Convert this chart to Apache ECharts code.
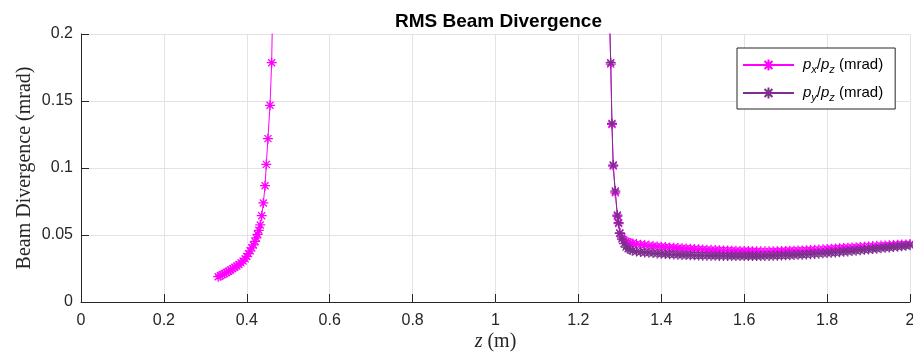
<!DOCTYPE html>
<html>
<head>
<meta charset="utf-8">
<script src="https://cdn.jsdelivr.net/npm/echarts@6/dist/echarts.min.js"></script>
<style>html,body{margin:0;padding:0;background:#fff;}#c{width:913px;height:354px;}</style>
</head>
<body>
<div id="c"></div>
<script>
// ---- data ----
const xTicks = [0, 0.2, 0.4, 0.6, 0.8, 1, 1.2, 1.4, 1.6, 1.8, 2];
const yTicks = [0, 0.05, 0.1, 0.15, 0.2];

// p_x/p_z : left branch, gap (off scale), right branch
const pxZ = [0.331,0.336,0.341,0.346,0.351,0.356,0.361,0.366,0.371,0.376,0.381,0.386,0.391,0.396,0.400,0.404,0.408,0.412,0.416,0.420,0.423,0.426,0.429,0.4325,0.436,0.440,0.444,0.447,0.451,0.456,0.460,0.464,
  0.9,
  1.272,1.278,1.281,1.284,1.289,1.294,1.297,1.300,1.305,1.310,1.315,1.320,1.325,1.330,
  1.34,1.35,1.36,1.37,1.38,1.39,1.40,1.41,1.42,1.43,1.44,1.45,1.46,1.47,1.48,1.49,1.50,1.51,1.52,1.53,1.54,1.55,1.56,1.57,1.58,1.59,1.60,1.61,1.62,1.63,1.64,1.65,1.66,1.67,1.68,1.69,1.70,1.71,1.72,1.73,1.74,1.75,1.76,1.77,1.78,1.79,1.80,1.81,1.82,1.83,1.84,1.85,1.86,1.87,1.88,1.89,1.90,1.91,1.92,1.93,1.94,1.95,1.96,1.97,1.98,1.99,2.00];
const pxV = [0.0189,0.0196,0.0204,0.0212,0.0220,0.0229,0.0239,0.0249,0.0259,0.0269,0.0280,0.0292,0.0306,0.0322,0.0340,0.0361,0.0382,0.0404,0.0426,0.0452,0.0478,0.0505,0.0535,0.0575,0.0644,0.0739,0.0868,0.1027,0.1219,0.1468,0.1786,0.25,
  null,
  0.25,0.1775,0.1325,0.1015,0.0815,0.0640,0.0585,0.0515,0.0485,0.0462,0.0452,0.0445,0.0440,0.0436,
  0.0432,0.0428,0.0425,0.0421,0.0418,0.0415,0.0412,0.0410,0.0407,0.0405,0.0403,0.0401,0.0399,0.0397,0.0395,0.0393,0.0392,0.0390,0.0389,0.0388,0.0386,0.0385,0.0384,0.0383,0.0382,0.0381,0.0380,0.0380,0.0379,0.0379,0.0378,0.0378,0.0378,0.0379,0.0379,0.0380,0.0381,0.0382,0.0383,0.0384,0.0385,0.0386,0.0388,0.0389,0.0391,0.0393,0.0395,0.0397,0.0399,0.0401,0.0403,0.0405,0.0407,0.0409,0.0411,0.0413,0.0415,0.0417,0.0419,0.0421,0.0422,0.0424,0.0426,0.0427,0.0429,0.0430,0.0432];

// p_y/p_z : right branch only
const pyZ = [1.272,1.278,1.281,1.284,1.289,1.294,1.297,1.300,1.305,1.310,1.315,1.320,1.325,1.330,
  1.34,1.35,1.36,1.37,1.38,1.39,1.40,1.41,1.42,1.43,1.44,1.45,1.46,1.47,1.48,1.49,1.50,1.51,1.52,1.53,1.54,1.55,1.56,1.57,1.58,1.59,1.60,1.61,1.62,1.63,1.64,1.65,1.66,1.67,1.68,1.69,1.70,1.71,1.72,1.73,1.74,1.75,1.76,1.77,1.78,1.79,1.80,1.81,1.82,1.83,1.84,1.85,1.86,1.87,1.88,1.89,1.90,1.91,1.92,1.93,1.94,1.95,1.96,1.97,1.98,1.99,2.00];
const pyV = [0.25,0.1786,0.1333,0.1022,0.0828,0.0649,0.0592,0.0513,0.0470,0.0435,0.0410,0.0398,0.0390,0.0383,
  0.0376,0.0373,0.0370,0.0367,0.0365,0.0362,0.0360,0.0358,0.0356,0.0354,0.0352,0.0351,0.0350,0.0349,0.0348,0.0347,0.0346,0.0346,0.0345,0.0345,0.0344,0.0344,0.0344,0.0343,0.0343,0.0343,0.0343,0.0343,0.0343,0.0343,0.0343,0.0344,0.0344,0.0345,0.0346,0.0347,0.0348,0.0349,0.0350,0.0352,0.0353,0.0355,0.0357,0.0359,0.0361,0.0363,0.0365,0.0367,0.0370,0.0372,0.0375,0.0377,0.0380,0.0383,0.0386,0.0389,0.0392,0.0395,0.0398,0.0401,0.0404,0.0407,0.0410,0.0413,0.0416,0.0419,0.0424];

const C_PX = '#FF00FF';
const C_PY = '#7E2F8E';
const STAR = 'path://M5,0L5,10M0,5L10,5M1.5,1.5L8.5,8.5M1.5,8.5L8.5,1.5';

function pairs(zs, vs){ return zs.map((z,i)=>[z, vs[i]===null ? '-' : vs[i]]); }

const chart = echarts.init(document.getElementById('c'), null, {renderer:'canvas'});
const sans = 'Liberation Sans, Arial, sans-serif';
const serif = 'Liberation Serif, Times New Roman, serif';

function legendRich(){
  return {
    i:{fontStyle:'italic', fontSize:15, fontFamily:sans, color:'#000', lineHeight:21},
    s:{fontStyle:'italic', fontSize:11, fontFamily:sans, color:'#000', lineHeight:11, padding:[9,0,0,0]},
    n:{fontSize:15, fontFamily:sans, color:'#000', lineHeight:21}
  };
}

chart.setOption({
  animation:false,
  backgroundColor:'#fff',
  title:{
    text:'RMS Beam Divergence', left:390, top:7,
    textStyle:{fontFamily:sans, fontSize:19, fontWeight:'bold', color:'#000'}
  },
  legend:{
    orient:'vertical', left:737, top:48,
    padding:[7,12,6,5], itemGap:8, itemWidth:51, itemHeight:14,
    backgroundColor:'#fff', borderColor:'#262626', borderWidth:1, borderRadius:0,
    data:['px','py'],
    formatter:function(name){
      const c = name==='px' ? 'x' : 'y';
      return '{i|p}{s|'+c+'}{n|/}{i|p}{s|z}{n| (mrad)}';
    },
    textStyle:{rich:legendRich(), padding:[0,0,0,4]}
  },
  grid:{left:81, right:3, top:34, bottom:52, containLabel:false, outerBoundsMode:'none'},
  xAxis:{
    type:'value', min:0, max:2, interval:0.2,
    name:'{i|z} (m)', nameLocation:'middle', nameGap:30, nameMoveOverlap:false,
    nameTextStyle:{fontFamily:serif, fontSize:20, color:'#262626',
      rich:{i:{fontFamily:serif, fontStyle:'italic', fontSize:20, color:'#262626'}}},
    axisLine:{show:true, onZero:false, lineStyle:{color:'#262626', width:1}},
    axisTick:{show:true, inside:true, length:8, lineStyle:{color:'#262626'}},
    axisLabel:{fontFamily:sans, fontSize:16, color:'#262626', margin:11,
      formatter:function(v){ return String(Math.round(v*10)/10); }},
    splitLine:{show:true, lineStyle:{color:'#e3e3e3', width:1}}
  },
  yAxis:{
    type:'value', min:0, max:0.2, interval:0.05,
    name:'Beam Divergence (mrad)', nameLocation:'middle', nameGap:46, nameMoveOverlap:false,
    nameTextStyle:{fontFamily:serif, fontSize:20, color:'#262626'},
    axisLine:{show:true, onZero:false, lineStyle:{color:'#262626', width:1}},
    axisTick:{show:true, inside:true, length:8, lineStyle:{color:'#262626'}},
    axisLabel:{fontFamily:sans, fontSize:16, color:'#262626', margin:8,
      formatter:function(v){ return String(Math.round(v*100)/100); }},
    splitLine:{show:true, lineStyle:{color:'#e3e3e3', width:1}}
  },
  series:[
    {
      name:'px', type:'line', data:pairs(pxZ, pxV), clip:true, connectNulls:false,
      symbol:STAR, symbolSize:10, showSymbol:true, showAllSymbol:true,
      lineStyle:{color:C_PX, width:1},
      itemStyle:{color:C_PX, borderColor:C_PX, borderWidth:1.3}
    },
    {
      name:'py', type:'line', data:pairs(pyZ, pyV), clip:true,
      symbol:STAR, symbolSize:10, showSymbol:true, showAllSymbol:true,
      lineStyle:{color:C_PY, width:1},
      itemStyle:{color:C_PY, borderColor:C_PY, borderWidth:1.3}
    }
  ]
});
</script>
</body>
</html>
